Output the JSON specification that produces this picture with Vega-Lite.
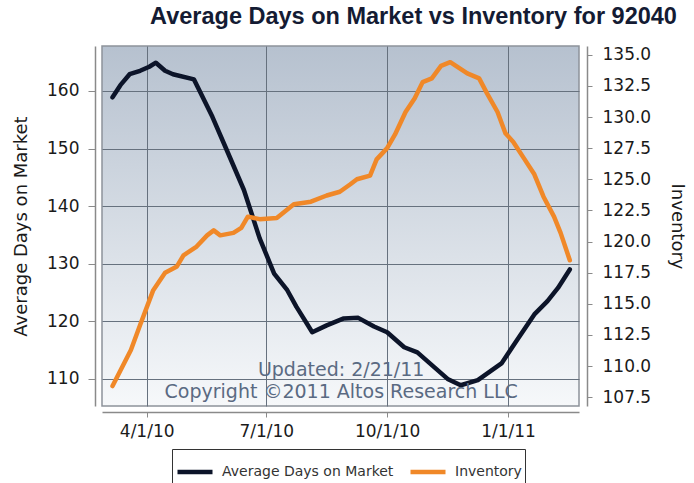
{
  "$schema": "https://vega.github.io/schema/vega-lite/v6.json",
  "width": 477,
  "height": 360,
  "autosize": {"type": "none"},
  "padding": {"left": 102, "top": 46, "right": 115, "bottom": 77},
  "background": "white",
  "config": {
    "font": "DejaVu Sans",
    "view": {
      "stroke": "#8d939b",
      "strokeWidth": 1.5,
      "fill": {
        "gradient": "linear",
        "x1": 0, "y1": 0, "x2": 0, "y2": 1,
        "stops": [
          {"offset": 0, "color": "#b6c1cf"},
          {"offset": 1, "color": "#f6f8fa"}
        ]
      }
    },
    "axis": {
      "labelFont": "DejaVu Sans",
      "labelFontSize": 17,
      "labelColor": "#1a1a1a",
      "titleFont": "DejaVu Sans",
      "titleFontSize": 18,
      "titleFontWeight": "normal",
      "titleColor": "#1a1a1a",
      "domainColor": "#8a8a8a",
      "domainWidth": 1.5,
      "tickColor": "#8a8a8a",
      "tickWidth": 1,
      "gridColor": "#66717e",
      "gridOpacity": 1,
      "gridWidth": 1
    }
  },
  "title": {
    "text": "Average Days on Market vs Inventory for 92040",
    "font": "Liberation Sans",
    "fontWeight": "bold",
    "fontSize": 23.5,
    "color": "#141b33",
    "anchor": "middle",
    "frame": "group",
    "dx": 73,
    "offset": 17
  },
  "datasets": {
    "lines": [
      {"date": "2010-03-06", "series": "Average Days on Market", "value": 158.9},
      {"date": "2010-03-12", "series": "Average Days on Market", "value": 161.0},
      {"date": "2010-03-19", "series": "Average Days on Market", "value": 162.9},
      {"date": "2010-03-27", "series": "Average Days on Market", "value": 163.5},
      {"date": "2010-04-03", "series": "Average Days on Market", "value": 164.2},
      {"date": "2010-04-08", "series": "Average Days on Market", "value": 164.9},
      {"date": "2010-04-15", "series": "Average Days on Market", "value": 163.5},
      {"date": "2010-04-21", "series": "Average Days on Market", "value": 162.9},
      {"date": "2010-05-07", "series": "Average Days on Market", "value": 162.0},
      {"date": "2010-05-21", "series": "Average Days on Market", "value": 155.5},
      {"date": "2010-06-01", "series": "Average Days on Market", "value": 149.7},
      {"date": "2010-06-14", "series": "Average Days on Market", "value": 142.8},
      {"date": "2010-06-26", "series": "Average Days on Market", "value": 134.4},
      {"date": "2010-07-07", "series": "Average Days on Market", "value": 128.3},
      {"date": "2010-07-17", "series": "Average Days on Market", "value": 125.4},
      {"date": "2010-07-24", "series": "Average Days on Market", "value": 122.5},
      {"date": "2010-08-05", "series": "Average Days on Market", "value": 118.1},
      {"date": "2010-08-16", "series": "Average Days on Market", "value": 119.3},
      {"date": "2010-08-29", "series": "Average Days on Market", "value": 120.5},
      {"date": "2010-09-09", "series": "Average Days on Market", "value": 120.6},
      {"date": "2010-09-21", "series": "Average Days on Market", "value": 119.1},
      {"date": "2010-10-01", "series": "Average Days on Market", "value": 118.1},
      {"date": "2010-10-14", "series": "Average Days on Market", "value": 115.5},
      {"date": "2010-10-24", "series": "Average Days on Market", "value": 114.6},
      {"date": "2010-11-06", "series": "Average Days on Market", "value": 112.0},
      {"date": "2010-11-16", "series": "Average Days on Market", "value": 110.0},
      {"date": "2010-11-26", "series": "Average Days on Market", "value": 108.9},
      {"date": "2010-12-09", "series": "Average Days on Market", "value": 109.8},
      {"date": "2010-12-27", "series": "Average Days on Market", "value": 112.7},
      {"date": "2011-01-08", "series": "Average Days on Market", "value": 116.8},
      {"date": "2011-01-21", "series": "Average Days on Market", "value": 121.2},
      {"date": "2011-01-31", "series": "Average Days on Market", "value": 123.5},
      {"date": "2011-02-08", "series": "Average Days on Market", "value": 125.8},
      {"date": "2011-02-17", "series": "Average Days on Market", "value": 129.0},
      {"date": "2010-03-06", "series": "Inventory", "value": 108.4},
      {"date": "2010-03-20", "series": "Inventory", "value": 111.3},
      {"date": "2010-03-27", "series": "Inventory", "value": 113.3},
      {"date": "2010-04-06", "series": "Inventory", "value": 116.1},
      {"date": "2010-04-15", "series": "Inventory", "value": 117.5},
      {"date": "2010-04-24", "series": "Inventory", "value": 118.0},
      {"date": "2010-04-29", "series": "Inventory", "value": 118.9},
      {"date": "2010-05-09", "series": "Inventory", "value": 119.6},
      {"date": "2010-05-17", "series": "Inventory", "value": 120.5},
      {"date": "2010-05-22", "series": "Inventory", "value": 120.9},
      {"date": "2010-05-27", "series": "Inventory", "value": 120.5},
      {"date": "2010-06-06", "series": "Inventory", "value": 120.7},
      {"date": "2010-06-12", "series": "Inventory", "value": 121.1},
      {"date": "2010-06-17", "series": "Inventory", "value": 122.0},
      {"date": "2010-06-26", "series": "Inventory", "value": 121.8},
      {"date": "2010-07-09", "series": "Inventory", "value": 121.9},
      {"date": "2010-07-22", "series": "Inventory", "value": 123.0},
      {"date": "2010-08-04", "series": "Inventory", "value": 123.2},
      {"date": "2010-08-16", "series": "Inventory", "value": 123.7},
      {"date": "2010-08-26", "series": "Inventory", "value": 124.0},
      {"date": "2010-09-03", "series": "Inventory", "value": 124.6},
      {"date": "2010-09-08", "series": "Inventory", "value": 125.0},
      {"date": "2010-09-18", "series": "Inventory", "value": 125.3},
      {"date": "2010-09-23", "series": "Inventory", "value": 126.6},
      {"date": "2010-10-01", "series": "Inventory", "value": 127.5},
      {"date": "2010-10-07", "series": "Inventory", "value": 128.6},
      {"date": "2010-10-15", "series": "Inventory", "value": 130.4},
      {"date": "2010-10-22", "series": "Inventory", "value": 131.5},
      {"date": "2010-10-28", "series": "Inventory", "value": 132.8},
      {"date": "2010-11-04", "series": "Inventory", "value": 133.1},
      {"date": "2010-11-11", "series": "Inventory", "value": 134.1},
      {"date": "2010-11-18", "series": "Inventory", "value": 134.4},
      {"date": "2010-12-01", "series": "Inventory", "value": 133.5},
      {"date": "2010-12-10", "series": "Inventory", "value": 133.1},
      {"date": "2010-12-16", "series": "Inventory", "value": 131.9},
      {"date": "2010-12-24", "series": "Inventory", "value": 130.4},
      {"date": "2010-12-30", "series": "Inventory", "value": 128.7},
      {"date": "2011-01-05", "series": "Inventory", "value": 128.0},
      {"date": "2011-01-13", "series": "Inventory", "value": 126.7},
      {"date": "2011-01-21", "series": "Inventory", "value": 125.4},
      {"date": "2011-01-28", "series": "Inventory", "value": 123.6},
      {"date": "2011-02-05", "series": "Inventory", "value": 122.0},
      {"date": "2011-02-10", "series": "Inventory", "value": 120.7},
      {"date": "2011-02-17", "series": "Inventory", "value": 118.5}
    ],
    "notes": [
      {"date": "2010-08-27", "value": 111.6, "text": "Updated: 2/21/11"},
      {"date": "2010-08-27", "value": 107.8, "text": "Copyright ©2011 Altos Research LLC"}
    ]
  },
  "layer": [
    {
      "layer": [
        {
          "data": {"name": "lines"},
          "transform": [{"filter": "datum.series === 'Average Days on Market'"}],
          "mark": {"type": "line", "strokeWidth": 4.5, "strokeCap": "round", "strokeJoin": "round"},
          "encoding": {
            "x": {
              "field": "date", "type": "temporal",
              "scale": {"domain": [{"year": 2010, "month": 2, "date": 26}, {"year": 2011, "month": 2, "date": 24}]},
              "axis": {
                "title": null,
                "values": [{"year": 2010, "month": 4, "date": 1}, {"year": 2010, "month": 7, "date": 1}, {"year": 2010, "month": 10, "date": 1}, {"year": 2011, "month": 1, "date": 1}],
                "format": "%-m/%-d/%y",
                "offset": 6,
                "tickSize": 5,
                "labelPadding": 6,
                "grid": true
              }
            },
            "y": {
              "field": "value", "type": "quantitative",
              "scale": {"domain": [105.3, 167.8], "nice": false, "zero": false},
              "axis": {
                "title": "Average Days on Market",
                "values": [110, 120, 130, 140, 150, 160],
                "offset": 7,
                "tickSize": 7,
                "labelPadding": 9,
                "titlePadding": 16,
                "grid": true
              }
            },
            "color": {
              "field": "series", "type": "nominal",
              "scale": {"domain": ["Average Days on Market", "Inventory"], "range": ["#0c1429", "#f08828"]},
              "legend": {
                "title": null,
                "orient": "none",
                "legendX": 70,
                "legendY": 403,
                "direction": "horizontal",
                "symbolType": "stroke",
                "symbolStrokeWidth": 4.5,
                "symbolSize": 1225,
                "labelFont": "DejaVu Sans",
                "labelFontSize": 14,
                "labelColor": "#333333",
                "labelLimit": 400,
                "labelOffset": 7,
                "columnPadding": 7,
                "padding": 3,
                "strokeColor": "#333333",
                "fillColor": "white"
              }
            }
          }
        },
        {
          "data": {"name": "notes"},
          "mark": {"type": "text", "font": "DejaVu Sans", "fontSize": 19, "color": "#5a6a82", "baseline": "middle", "align": "center"},
          "encoding": {
            "x": {"field": "date", "type": "temporal"},
            "y": {"field": "value", "type": "quantitative"},
            "text": {"field": "text"}
          }
        }
      ]
    },
    {
      "data": {"name": "lines"},
      "transform": [{"filter": "datum.series === 'Inventory'"}],
      "mark": {"type": "line", "strokeWidth": 4.5, "strokeCap": "round", "strokeJoin": "round"},
      "encoding": {
        "x": {"field": "date", "type": "temporal"},
        "y": {
          "field": "value", "type": "quantitative",
          "scale": {"domain": [106.8, 135.7], "nice": false, "zero": false},
          "axis": {
            "title": "Inventory",
            "orient": "right",
            "values": [107.5, 110, 112.5, 115, 117.5, 120, 122.5, 125, 127.5, 130, 132.5, 135],
            "format": ".1f",
            "offset": 8,
            "tickSize": 5,
            "labelPadding": 10,
            "titlePadding": 17,
            "grid": false
          }
        },
        "color": {"field": "series", "type": "nominal"}
      }
    }
  ],
  "resolve": {"scale": {"y": "independent"}}
}
